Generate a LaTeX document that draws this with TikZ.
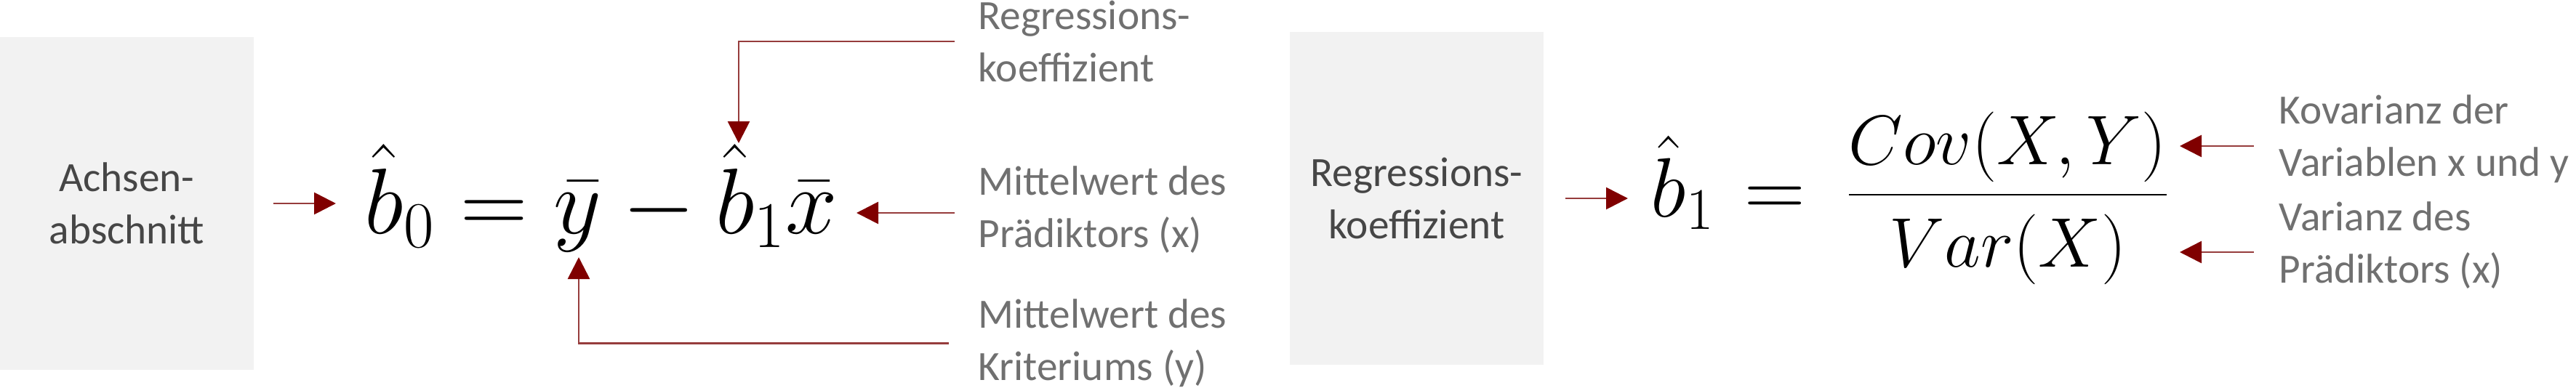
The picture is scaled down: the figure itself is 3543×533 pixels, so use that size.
\RequirePackage{fix-cm}
\documentclass[tikz,border=0pt]{standalone}
\usepackage[no-math]{fontspec}
\setmainfont{Carlito}
\usetikzlibrary{arrows.meta, positioning, calc}
\definecolor{ArrowRed}{RGB}{128, 0, 0}
\definecolor{LineRed}{RGB}{150, 60, 60}
\definecolor{BoxGray}{RGB}{242, 242, 242}
\definecolor{BoxText}{RGB}{70, 70, 70}
\definecolor{NoteText}{RGB}{112, 112, 112}

\begin{document}
\begin{tikzpicture}[x=0.1mm,y=-0.1mm,
  box/.style={fill=BoxGray, minimum width=34.9mm, minimum height=45.8mm, inner sep=0,
    align=center, text=BoxText, font=\fontsize{16.3}{20.5}\selectfont},
  note/.style={anchor=west, inner sep=0, align=left, text=NoteText,
    font=\fontsize{16.3}{20.5}\selectfont},
  arr/.style={draw=LineRed, line width=0.8pt,
    -{Triangle[length=3mm, width=3mm, color=ArrowRed]}}]
  \path[use as bounding box] (0,0) rectangle (3543,533);

  \node[box] (achse) at (174.5,280) {Achsen-\\abschnitt};
  \node[box] (regr) at (1948.5,273) {Regressions-\\koeffizient};

  \node[anchor=base west, inner sep=0, font=\fontsize{36.5}{40}\selectfont] (bnull) at (501,321)
    {$\hat{b}_0 = \bar{y} - \hat{b}_1\bar{x}$};
  \node[anchor=base west, inner sep=0, font=\fontsize{33}{36}\selectfont] (beins) at (2270,298)
    {$\hat{b}_1\mkern1.5mu =$};
  \node[anchor=base west, inner sep=0, font=\fontsize{27.5}{32}\selectfont] (bruch) at (2538,292)
    {$\displaystyle\frac{\rule[-0.34em]{0pt}{0.34em}Cov(X,Y)}{\rule{0pt}{0.98em}Var(X)}$};

  \coordinate (btip) at (1016,197);
  \coordinate (ytip) at (796,354);
  \coordinate (xtip) at (1178,293);
  \coordinate (covtip) at (2998,201);
  \coordinate (vartip) at (2998,347);

  \node[note] (nkoef) at (1345,57) {Regressions-\\koeffizient};
  \node[note] (npred) at (1345,288.5) {Mittelwert des\\Prädiktors (x)};
  \node[note] (nkrit) at (1345,472.5) {Mittelwert des\\Kriteriums (y)};
  \node[note] (ncov) at (3134,191.5) {Kovarianz der\\Variablen x und y};
  \node[note] (nvar) at (3134,338) {Varianz des\\Prädiktors (x)};

  \draw[arr, shorten <=2.6mm, shorten >=3.9mm] (achse.east) -- (achse.east -| bnull.west);
  \draw[arr, shorten <=2.9mm, shorten >=3.1mm] (regr.east) -- (regr.east -| beins.west);
  \draw[arr, shorten <=3.2mm] (nkoef.west) -| (btip);
  \draw[arr, shorten <=3.2mm] (npred.west |- xtip) -- (xtip);
  \draw[arr, shorten <=4mm] (nkrit.west) -| (ytip);
  \draw[arr, shorten <=3.4mm] (ncov.west |- covtip) -- (covtip);
  \draw[arr, shorten <=3.4mm] (nvar.west |- vartip) -- (vartip);
\end{tikzpicture}
\end{document}
